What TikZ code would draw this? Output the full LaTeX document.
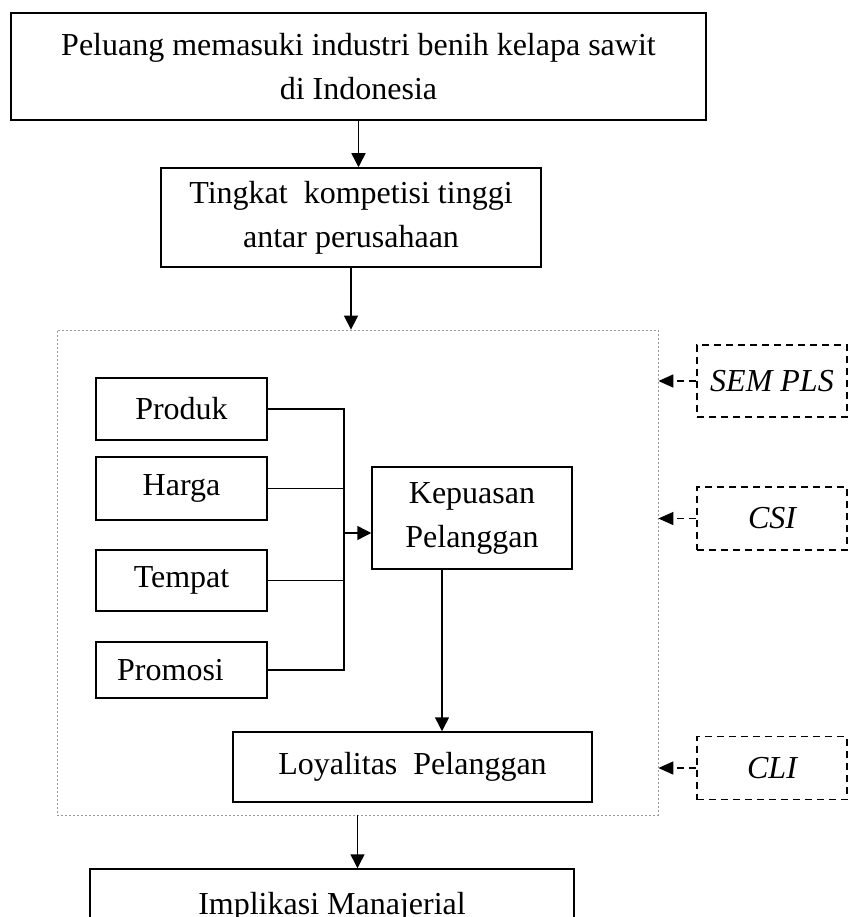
\documentclass[tikz,border=0pt]{standalone}
\usepackage{fontspec}
\setmainfont{Liberation Serif}
\usetikzlibrary{positioning, arrows.meta, calc}

\tikzset{
  box/.style={draw, line width=1.5pt, align=center, inner sep=0pt, font=\fontsize{32}{44}\selectfont},
  method/.style={draw, line width=1.6pt, dash pattern=on 7pt off 5pt, inner sep=0pt, minimum width=150pt, font=\fontsize{32}{44}\selectfont\itshape},
  flow/.style={-{Triangle[length=14pt, width=14pt]}, line width=1.5pt},
  back/.style={-{Triangle[length=15pt, width=13pt]}, line width=1.6pt, dash pattern=on 7pt off 5pt},
}

\begin{document}
\begin{tikzpicture}[x=1pt, y=-1pt]
  \useasboundingbox (0,0) rectangle (852,917);
  \node[box, minimum width=695pt, minimum height=107pt] (peluang) at (358.5,66.5) {Peluang memasuki industri benih kelapa sawit\\di Indonesia};
  \node[box, minimum width=380pt, minimum height=99pt] (kompetisi) at (351,217.5) {Tingkat\ \ kompetisi tinggi\\antar perusahaan};
  \node[draw, gray!80, line width=0.8pt, dash pattern=on 2pt off 2pt, minimum width=601pt, minimum height=485pt] (model) at (357.5,572.5) {};

  % bauran pemasaran
  \node[box, minimum width=171pt, minimum height=62pt] (produk) at (181.5,409) {Produk};
  \node[box, minimum width=171pt, minimum height=63pt] (harga) at (181.5,488.5) {Harga};
  \node[box, minimum width=171pt, minimum height=61pt] (tempat) at (181.5,580.5) {Tempat};
  \node[box, minimum width=171pt, minimum height=56pt] (promosi) at (181.5,670) {Promosi\hspace*{22pt}};
  \coordinate (join) at (344,533);

  \node[box, minimum width=200pt, minimum height=102pt] (kepuasan) at (472,518) {Kepuasan\\Pelanggan};
  \node[box, minimum width=359pt, minimum height=70pt] (loyalitas) at (412.5,767) {Loyalitas\ \ Pelanggan};
  \node[box, minimum width=484pt, minimum height=76pt] (implikasi) at (332,907) {Implikasi Manajerial};

  % alat analisis
  \node[method, minimum height=72pt] (sem) at (772,381) {SEM PLS};
  \node[method, minimum height=63pt] (csi) at (772,518.5) {CSI};
  \node[method, minimum height=63pt] (cli) at (772,768) {CLI};

  \draw[flow] (peluang.south) -- (peluang.south |- kompetisi.north);
  \draw[flow] (kompetisi.south) -- (kompetisi.south |- model.north);
  \draw[line width=1.5pt] (produk.east) -| (join);
  \draw[line width=1.5pt] (harga.east) -| (join);
  \draw[line width=1.5pt] (tempat.east) -| (join);
  \draw[line width=1.5pt] (promosi.east) -| (join);
  \draw[flow] (join) -- (join -| kepuasan.west);
  \draw[flow] ([xshift=-30pt]kepuasan.south) -- ([xshift=-30pt]kepuasan.south |- loyalitas.north);
  \draw[flow] (model.south) -- (model.south |- implikasi.north);
  \draw[back] (sem.west) -- (sem.west -| model.east);
  \draw[back] (csi.west) -- (csi.west -| model.east);
  \draw[back] (cli.west) -- (cli.west -| model.east);
\end{tikzpicture}
\end{document}
